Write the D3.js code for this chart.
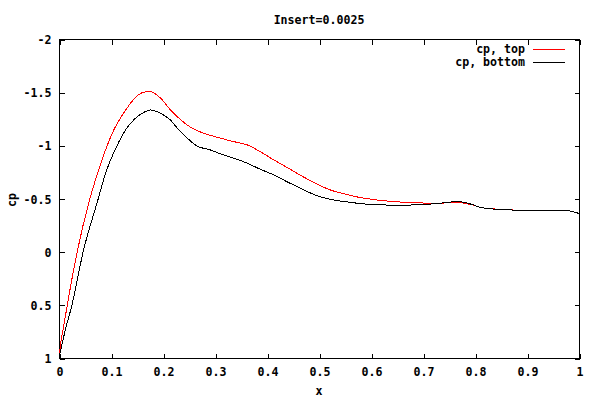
<!DOCTYPE html>
<html>
<head>
<meta charset="utf-8">
<script src="https://cdn.jsdelivr.net/npm/d3@7"></script>
<style>
  html, body { margin: 0; padding: 0; background: #fff; }
  svg { display: block; }
  text { font-family: "DejaVu Sans Mono", "Liberation Mono", monospace; font-weight: bold; font-size: 11.6px; fill: #000; }
</style>
</head>
<body>
<svg id="chart" width="600" height="400"></svg>
<script>
// ---- data ----
const titleText = "Insert=0.0025";
const xLabelText = "x";
const yLabelText = "cp";
const seriesNames = ["cp, top", "cp, bottom"];
const seriesColors = ["#ff0000", "#000000"];

const xTicks = [0, 0.1, 0.2, 0.3, 0.4, 0.5, 0.6, 0.7, 0.8, 0.9, 1];
const xTickLabels = ["0", "0.1", "0.2", "0.3", "0.4", "0.5", "0.6", "0.7", "0.8", "0.9", "1"];
const yTicks = [-2, -1.5, -1, -0.5, 0, 0.5, 1];
const yTickLabels = ["-2", "-1.5", "-1", "-0.5", "0", "0.5", "1"];

const xTop = [0, 0.003, 0.008, 0.016, 0.035, 0.059, 0.073, 0.089, 0.105, 0.128, 0.147, 0.163, 0.176, 0.195, 0.214, 0.233, 0.253, 0.278, 0.304, 0.336, 0.362, 0.387, 0.413, 0.438, 0.464, 0.496, 0.522, 0.547, 0.573, 0.605, 0.637, 0.675, 0.723, 0.752, 0.765, 0.78, 0.797, 0.809, 0.828, 0.847, 0.87, 0.892, 0.976, 0.989, 1.0];
const cpTop = [1.0, 0.87, 0.73, 0.5, 0.0, -0.49, -0.72, -0.95, -1.14, -1.33, -1.45, -1.50, -1.505, -1.445, -1.335, -1.245, -1.17, -1.114, -1.076, -1.035, -1.004, -0.94, -0.863, -0.794, -0.72, -0.635, -0.58, -0.545, -0.515, -0.49, -0.473, -0.462, -0.456, -0.46, -0.465, -0.455, -0.437, -0.418, -0.405, -0.398, -0.392, -0.39, -0.39, -0.374, -0.36];

const xBot = [0, 0.004, 0.012, 0.025, 0.0465, 0.075, 0.089, 0.109, 0.128, 0.147, 0.166, 0.176, 0.195, 0.214, 0.227, 0.240, 0.253, 0.265, 0.291, 0.316, 0.342, 0.362, 0.387, 0.413, 0.438, 0.464, 0.496, 0.522, 0.554, 0.586, 0.618, 0.656, 0.710, 0.733, 0.752, 0.765, 0.78, 0.797, 0.809, 0.828, 0.847, 0.87, 0.892, 0.976, 0.989, 1.0];
const cpBot = [1.0, 0.91, 0.74, 0.5, 0.0, -0.49, -0.73, -0.97, -1.145, -1.255, -1.317, -1.333, -1.302, -1.239, -1.165, -1.098, -1.04, -0.994, -0.957, -0.91, -0.869, -0.832, -0.775, -0.722, -0.659, -0.597, -0.527, -0.492, -0.468, -0.449, -0.44, -0.437, -0.446, -0.456, -0.465, -0.474, -0.462, -0.44, -0.418, -0.405, -0.396, -0.392, -0.39, -0.39, -0.374, -0.36];

// ---- layout ----
const svg = d3.select("#chart");
const L = 59, R = 579, T = 39, B = 358;
const tickLen = 5;

const x = d3.scaleLinear().domain([0, 1]).range([L, R]);
const y = d3.scaleLinear().domain([-2, 1]).range([T, B]);

const g = svg.append("g");

// border
g.append("rect").attr("x", L + 0.5).attr("y", T + 0.5)
  .attr("width", R - L).attr("height", B - T)
  .attr("fill", "none").attr("stroke", "#000").attr("stroke-width", 1)
  .attr("shape-rendering", "crispEdges");

// axes with inward ticks (mirrored)
const xb = g.append("g").attr("transform", `translate(0.5,${B + 0.5})`)
  .call(d3.axisBottom(x).tickValues(xTicks).tickSizeInner(-tickLen).tickSizeOuter(0)
    .tickFormat((d, i) => xTickLabels[i]));
const xt = g.append("g").attr("transform", `translate(0.5,${T + 0.5})`)
  .call(d3.axisTop(x).tickValues(xTicks).tickSizeInner(-tickLen).tickSizeOuter(0).tickFormat(""));
const yl = g.append("g").attr("transform", `translate(${L + 0.5},0.5)`)
  .call(d3.axisLeft(y).tickValues(yTicks).tickSizeInner(-tickLen).tickSizeOuter(0)
    .tickFormat((d, i) => yTickLabels[i]));
const yr = g.append("g").attr("transform", `translate(${R + 0.5},0.5)`)
  .call(d3.axisRight(y).tickValues(yTicks).tickSizeInner(-tickLen).tickSizeOuter(0).tickFormat(""));

[xb, xt, yl, yr].forEach(a => {
  a.select(".domain").remove();
  a.selectAll("line").attr("stroke", "#000").attr("shape-rendering", "crispEdges");
  a.selectAll("text").attr("font-family", null).attr("font-size", null).attr("fill", "#000");
});
yl.selectAll("text").attr("x", -8).attr("dy", "0.35em");
xb.selectAll("text").attr("y", 9).attr("dy", "0.71em");

// series
const line = d3.line().x(d => x(d[0])).y(d => y(d[1])).curve(d3.curveMonotoneX);
const topData = xTop.map((v, i) => [v, cpTop[i]]);
const botData = xBot.map((v, i) => [v, cpBot[i]]);

g.append("path").datum(topData).attr("d", line)
  .attr("fill", "none").attr("stroke", seriesColors[0]).attr("stroke-width", 1)
  .attr("shape-rendering", "crispEdges");
g.append("path").datum(botData).attr("d", line)
  .attr("fill", "none").attr("stroke", seriesColors[1]).attr("stroke-width", 1)
  .attr("shape-rendering", "crispEdges");

// title and labels
svg.append("text").attr("x", (L + R) / 2).attr("y", 20).attr("dy", "0.35em")
  .attr("text-anchor", "middle").text(titleText);
svg.append("text").attr("x", (L + R) / 2).attr("y", 391).attr("dy", "0.35em")
  .attr("text-anchor", "middle").text(xLabelText);
svg.append("text").attr("transform", "translate(12,200) rotate(-90)").attr("dy", "0.35em")
  .attr("text-anchor", "middle").text(yLabelText);

// legend
const legY = [49, 62];
seriesNames.forEach((name, i) => {
  svg.append("text").attr("x", 525).attr("y", legY[i]).attr("dy", "0.35em")
    .attr("text-anchor", "end").text(name);
  svg.append("line").attr("x1", 533).attr("x2", 565)
    .attr("y1", legY[i] + 0.5).attr("y2", legY[i] + 0.5)
    .attr("stroke", seriesColors[i]).attr("stroke-width", 1)
    .attr("shape-rendering", "crispEdges");
});
</script>
</body>
</html>
